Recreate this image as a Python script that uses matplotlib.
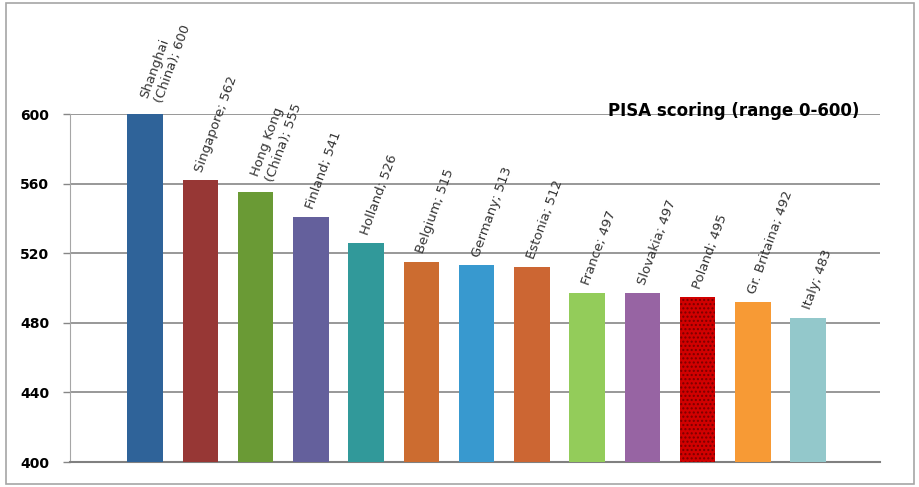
import matplotlib
matplotlib.use("Agg")
import matplotlib.pyplot as plt
import matplotlib.patches as mpatches

# PISA scores
countries = ["Shanghai\n(China)", "Singapore", "Hong Kong\n(China)", "Finland", "Holland",
             "Belgium", "Germany", "Estonia", "France", "Slovakia", "Poland",
             "Gr. Britaina", "Italy"]
scores = [600, 562, 555, 541, 526, 515, 513, 512, 497, 497, 495, 492, 483]
bar_colors = ["#2f6399", "#973735", "#6a9a35", "#64609c", "#31999a", "#cc6c30",
              "#3899cf", "#cc6633", "#93cc5a", "#9764a3", "#d10000", "#f79a35",
              "#93c8cb"]
y_ticks = [400, 440, 480, 520, 560, 600]
chart_title = "PISA scoring (range 0-600)"

label_font = ["Liberation Sans Narrow", "DejaVu Sans"]

fig = plt.figure(figsize=(9.2, 4.87), dpi=100)
fig.patches.append(mpatches.Rectangle((0.006, 0.006), 0.988, 0.988, transform=fig.transFigure,
                                      fill=False, edgecolor="#a6a6a6", linewidth=1.2))
ax = fig.add_axes([0.0761, 0.0513, 0.8804, 0.7146])

x = list(range(len(scores)))
bars = ax.bar(x, [s - 400 for s in scores], bottom=400, width=0.64, color=bar_colors,
              linewidth=0, zorder=3)
# Poland bar has a dotted fill
bars[10].set_hatch("....")
bars[10].set_edgecolor("#7a0000")

for i, (name, s) in enumerate(zip(countries, scores)):
    two_lines = "\n" in name
    ax.text(i + (0.12 if two_lines else -0.02), s + (8 if two_lines else 5), f"{name}; {s}",
            rotation=70, rotation_mode="anchor", ha="left", va="center",
            fontsize=9.5, color="#333333", family=label_font, linespacing=1.25)

ax.set_xlim(-1.36, 13.3)
ax.set_ylim(400, 600)
ax.set_yticks(y_ticks)
ax.set_yticklabels([str(t) for t in y_ticks], fontsize=10, fontweight="heavy",
                   family=["DejaVu Sans"])
ax.set_xticks([])
ax.tick_params(axis="y", length=5, width=1, color="#868686", pad=10)
ax.yaxis.grid(True, color="#868686", linewidth=1.2, zorder=0)

for side in ["top", "right"]:
    ax.spines[side].set_visible(False)
ax.spines["left"].set_color("#a6a6a6")
ax.spines["bottom"].set_color("#808080")
ax.spines["bottom"].set_linewidth(1.5)

ax.text(0.974, 1.008, chart_title, transform=ax.transAxes, ha="right", va="center",
        fontsize=12, fontweight="heavy", family=["DejaVu Sans"])

fig.savefig("out.png", dpi=100)
